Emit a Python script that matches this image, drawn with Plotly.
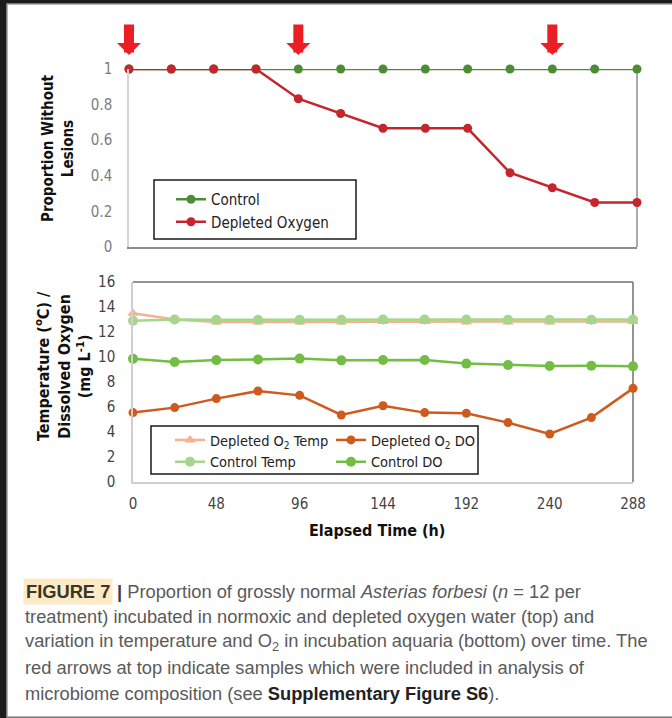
import plotly.graph_objects as go

W, H = 672, 718


def px(x):
    return x / W


def py(y):
    return 1 - y / H


# ---------------- data ----------------
hours = [0, 24, 48, 72, 96, 120, 144, 168, 192, 216, 240, 264, 288]
control_prop = [1, 1, 1, 1, 1, 1, 1, 1, 1, 1, 1, 1, 1]
depleted_prop = [1, 1, 1, 1, 0.833, 0.75, 0.667, 0.667, 0.667, 0.417, 0.333, 0.25, 0.25]
arrow_hours = [0, 96, 240]

depleted_temp = [13.5, 13.0, 12.8, 12.8, 12.8, 12.8, 12.85, 12.85, 12.8, 12.8, 12.8, 12.85, 12.85]
depleted_do = [5.55, 5.95, 6.67, 7.28, 6.93, 5.36, 6.1, 5.55, 5.5, 4.75, 3.84, 5.15, 7.49]
control_temp = [12.9, 13.0, 12.97, 12.97, 12.97, 12.97, 13.0, 13.0, 13.0, 12.98, 12.98, 12.98, 13.0]
control_do = [9.85, 9.6, 9.75, 9.8, 9.87, 9.73, 9.76, 9.76, 9.47, 9.36, 9.28, 9.3, 9.25]

top_yticks = [0, 0.2, 0.4, 0.6, 0.8, 1]
top_yticklabels = ["0", "0.2", "0.4", "0.6", "0.8", "1"]
bottom_yticks = [0, 2, 4, 6, 8, 10, 12, 14, 16]
bottom_xticks = [0, 48, 96, 144, 192, 240, 288]

caption_lines = [
    "<b><span style='color:#3d3d3d'>|</span></b> Proportion of grossly normal <i>Asterias forbesi</i> (<i>n</i> = 12 per",
    "treatment) incubated in normoxic and depleted oxygen water (top) and",
    "variation in temperature and O<sub>2</sub> in incubation aquaria (bottom) over time. The",
    "red arrows at top indicate samples which were included in analysis of",
    "microbiome composition (see <b><span style='color:#222'>Supplementary Figure S6</span></b>).",
]

# ---------------- style ----------------
NARROW = "Liberation Sans Narrow, Arial Narrow, DejaVu Sans Condensed, Liberation Sans, sans-serif"
CAPFONT = "Liberation Sans, Arial, sans-serif"
GREEN = "#4d8b35"
RED = "#c4262e"
ARROW_RED = "#ea1f25"
LIGHT_ORANGE = "#f6b28a"
DARK_ORANGE = "#cf5a1e"
LIGHT_GREEN = "#a5d68c"
MID_GREEN = "#74bd44"

fig = go.Figure()

# top panel
fig.add_trace(go.Scatter(
    x=hours, y=control_prop, name="Control", mode="lines+markers",
    line=dict(color=GREEN, width=2.5), marker=dict(size=9, color=GREEN),
    xaxis="x", yaxis="y", legend="legend", cliponaxis=False))
fig.add_trace(go.Scatter(
    x=hours, y=depleted_prop, name="Depleted Oxygen", mode="lines+markers",
    line=dict(color=RED, width=2.5), marker=dict(size=9, color=RED),
    xaxis="x", yaxis="y", legend="legend", cliponaxis=False))

# bottom panel
fig.add_trace(go.Scatter(
    x=hours, y=depleted_temp, name="Depleted O<sub>2</sub> Temp", mode="lines+markers",
    line=dict(color=LIGHT_ORANGE, width=2.5),
    marker=dict(size=10, color=LIGHT_ORANGE, symbol="triangle-up"),
    xaxis="x2", yaxis="y2", legend="legend2", cliponaxis=False))
fig.add_trace(go.Scatter(
    x=hours, y=depleted_do, name="Depleted O<sub>2</sub> DO", mode="lines+markers",
    line=dict(color=DARK_ORANGE, width=2.5), marker=dict(size=9, color=DARK_ORANGE),
    xaxis="x2", yaxis="y2", legend="legend3", cliponaxis=False))
fig.add_trace(go.Scatter(
    x=hours, y=control_temp, name="Control Temp", mode="lines+markers",
    line=dict(color=LIGHT_GREEN, width=2.5), marker=dict(size=10, color=LIGHT_GREEN),
    xaxis="x2", yaxis="y2", legend="legend2", cliponaxis=False))
fig.add_trace(go.Scatter(
    x=hours, y=control_do, name="Control DO", mode="lines+markers",
    line=dict(color=MID_GREEN, width=2.5), marker=dict(size=10, color=MID_GREEN),
    xaxis="x2", yaxis="y2", legend="legend3", cliponaxis=False))

shapes = []
# card background
shapes.append(dict(type="rect", xref="paper", yref="paper", x0=px(7), x1=1.01,
                   y0=py(717), y1=py(4), fillcolor="white",
                   line=dict(color="#9a9a9a", width=1.5), layer="below"))
# legend boxes
shapes.append(dict(type="rect", xref="paper", yref="paper", x0=px(154), x1=px(356),
                   y0=py(239), y1=py(180), fillcolor="white",
                   line=dict(color="#1a1a1a", width=1.5), layer="below"))
shapes.append(dict(type="rect", xref="paper", yref="paper", x0=px(151), x1=px(478),
                   y0=py(474), y1=py(426), fillcolor="white",
                   line=dict(color="#1a1a1a", width=1.5), layer="below"))
# plot frame lines
shapes.append(dict(type="line", xref="x domain", yref="y domain", x0=1, x1=1, y0=0, y1=1,
                   line=dict(color="#8c8c8c", width=1.5), layer="below"))
shapes.append(dict(type="line", xref="x2 domain", yref="y2 domain", x0=1, x1=1, y0=0, y1=1,
                   line=dict(color="#707070", width=1.5), layer="below"))
shapes.append(dict(type="line", xref="x2 domain", yref="y2 domain", x0=0, x1=1, y0=1, y1=1,
                   line=dict(color="#707070", width=1.5), layer="below"))

annotations = []
# sample arrows (annotation arrows placed on the top panel's x axis)
for t in arrow_hours:
    annotations.append(dict(xref="x", yref="paper", x=t, y=py(55), text="",
                            showarrow=True, ax=0, ay=-32, arrowhead=1, arrowsize=0.4,
                            arrowwidth=10, arrowcolor=ARROW_RED, standoff=0))

annotations.append(dict(xref="paper", yref="paper", x=px(58), y=py(148),
                        xanchor="center", yanchor="middle",
                        text="<b>Proportion Without</b><br><b>Lesions</b>", textangle=-90,
                        showarrow=False, font=dict(family=NARROW, size=15, color="#111")))
annotations.append(dict(xref="paper", yref="paper", x=px(63), y=py(366),
                        xanchor="center", yanchor="middle",
                        text="<b>Temperature (<sup>o</sup>C) /</b><br><b>Dissolved Oxygen</b><br><b>(mg L<sup>-1</sup>)</b>",
                        textangle=-90, showarrow=False,
                        font=dict(family=NARROW, size=16, color="#111")))
annotations.append(dict(xref="paper", yref="paper", x=px(377), y=py(530),
                        xanchor="center", yanchor="middle",
                        text="<b>Elapsed Time (h)</b>", showarrow=False,
                        font=dict(family=NARROW, size=16, color="#111")))
# caption
CAP_SIZE = 18.3
annotations.append(dict(xref="paper", yref="paper", x=px(23), y=py(591), xanchor="left",
                        yanchor="middle", text="<b>FIGURE 7</b>", showarrow=False,
                        bgcolor="#fcebc6", borderpad=2,
                        font=dict(family=CAPFONT, size=CAP_SIZE, color="#3b3525")))
for i, line in enumerate(caption_lines):
    annotations.append(dict(xref="paper", yref="paper",
                            x=px(115 if i == 0 else 23), y=py(591 + 25.5 * i),
                            xanchor="left", yanchor="middle", text=line, showarrow=False,
                            font=dict(family=CAPFONT, size=CAP_SIZE, color="#5a5a5a")))

fig.update_layout(
    width=W, height=H, margin=dict(l=0, r=0, t=0, b=0, autoexpand=False),
    paper_bgcolor="#1c1c1c", plot_bgcolor="rgba(0,0,0,0)",
    shapes=shapes, annotations=annotations,
    xaxis=dict(domain=[px(129), px(637)], range=[0, 288], anchor="y", automargin=False,
               showticklabels=False, ticks="", showgrid=False, zeroline=False,
               showline=True, linecolor="#8c8c8c", linewidth=1.5, fixedrange=True),
    yaxis=dict(domain=[py(247), py(69)], range=[0, 1], anchor="x", automargin=False,
               tickvals=top_yticks, ticktext=top_yticklabels, ticks="",
               ticklabelstandoff=12, showgrid=False, zeroline=False,
               showline=True, linecolor="#d4d4d4", linewidth=1.5,
               tickfont=dict(family=NARROW, size=15, color="#7d7d7d")),
    xaxis2=dict(domain=[px(133), px(633)], range=[0, 288], anchor="y2", automargin=False,
                tickvals=bottom_xticks, ticks="", ticklabelstandoff=7,
                showgrid=False, zeroline=False, showline=True, linecolor="#cfcfcf",
                linewidth=1.5, tickfont=dict(family=NARROW, size=15, color="#444")),
    yaxis2=dict(domain=[py(482), py(282)], range=[0, 16], anchor="x2", automargin=False,
                tickvals=bottom_yticks, ticks="", ticklabelstandoff=13,
                showgrid=False, zeroline=False, showline=True, linecolor="#cfcfcf",
                linewidth=1.5, tickfont=dict(family=NARROW, size=15, color="#444")),
    legend=dict(x=px(171), y=py(183), xanchor="left", yanchor="top",
                bgcolor="rgba(0,0,0,0)", borderwidth=0, tracegroupgap=0,
                font=dict(family=NARROW, size=15, color="#222")),
    legend2=dict(x=px(170), y=py(424), xanchor="left", yanchor="top",
                 bgcolor="rgba(0,0,0,0)", borderwidth=0, tracegroupgap=0,
                 font=dict(family=NARROW, size=14.5, color="#222")),
    legend3=dict(x=px(331), y=py(424), xanchor="left", yanchor="top",
                 bgcolor="rgba(0,0,0,0)", borderwidth=0, tracegroupgap=0,
                 font=dict(family=NARROW, size=14.5, color="#222")),
    showlegend=True,
)

fig.write_html("out.html")
